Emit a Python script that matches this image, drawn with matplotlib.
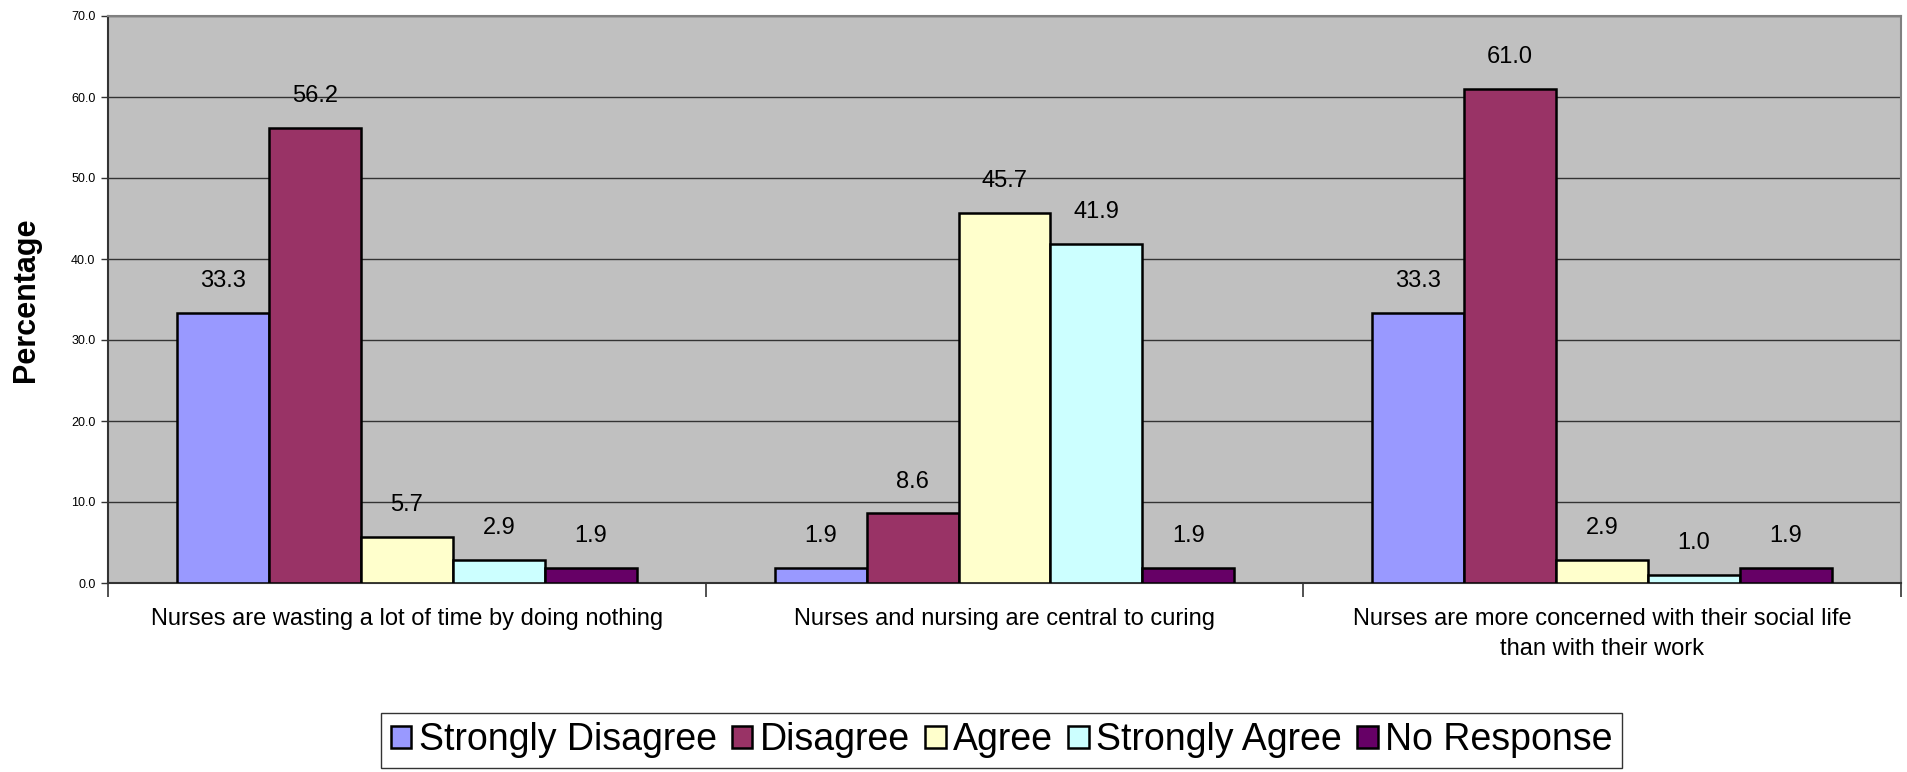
import matplotlib
matplotlib.use("Agg")
import matplotlib.pyplot as plt
import numpy as np
from matplotlib.patches import Patch

plt.rcParams['font.family'] = ['Liberation Sans', 'DejaVu Sans']

categories = [
    "Nurses are wasting a lot of time by doing nothing",
    "Nurses and nursing are central to curing",
    "Nurses are more concerned with their social life\nthan with their work",
]
series_names = ["Strongly Disagree", "Disagree", "Agree", "Strongly Agree", "No Response"]
strongly_disagree = [33.3, 1.9, 33.3]
disagree = [56.2, 8.6, 61.0]
agree = [5.7, 45.7, 2.9]
strongly_agree = [2.9, 41.9, 1.0]
no_response = [1.9, 1.9, 1.9]
series_values = [strongly_disagree, disagree, agree, strongly_agree, no_response]
colors = ["#9999FF", "#993366", "#FFFFCC", "#CCFFFF", "#660066"]

fig = plt.figure(figsize=(19.08, 7.72), dpi=100)
ax = fig.add_axes([108 / 1908, 1 - 583 / 772, (1901 - 108) / 1908, (583 - 16) / 772])
ax.set_facecolor("#C0C0C0")

n = len(series_names)
bar_w = 1.0 / (n + 1.5)
x = np.arange(len(categories))
for i, (name, vals, col) in enumerate(zip(series_names, series_values, colors)):
    pos = x + (i - (n - 1) / 2) * bar_w
    bars = ax.bar(pos, vals, width=bar_w, color=col, edgecolor="black",
                  linewidth=1.8, label=name, zorder=3)
    for b, v in zip(bars, vals):
        ax.annotate(f"{v:.1f}", (b.get_x() + b.get_width() / 2, v),
                    xytext=(0, 15), textcoords="offset points",
                    ha="center", va="bottom", fontsize=17, zorder=4)

ax.set_xlim(-0.5, len(categories) - 0.5)
ax.set_ylim(0, 70)
ax.set_yticks(np.arange(0, 71, 10))
ax.set_yticklabels([f"{t:.1f}" for t in np.arange(0, 71, 10)], fontsize=9)
ax.yaxis.grid(True, color="#333333", linewidth=1.0, zorder=1)
ax.set_axisbelow(True)

# category labels centred between boundary ticks
ax.set_xticks(np.arange(-0.5, len(categories), 1.0))
ax.set_xticklabels([])
ax.set_xticks(x, minor=True)
ax.set_xticklabels(categories, minor=True, fontsize=17, linespacing=1.45)
ax.tick_params(axis="x", which="minor", length=0, pad=18)
ax.tick_params(axis="x", which="major", length=10, width=1.2, color="#333333")
ax.tick_params(axis="y", length=5, width=1.0, color="#333333", pad=4)

for side in ["top", "right"]:
    ax.spines[side].set_color("#808080")
    ax.spines[side].set_linewidth(1.5)
for side in ["left", "bottom"]:
    ax.spines[side].set_color("#333333")
    ax.spines[side].set_linewidth(1.5)

ax.set_ylabel("Percentage", fontsize=22, fontweight="bold", labelpad=22)

handles = [Patch(facecolor=c, edgecolor="black", linewidth=1.8) for c in colors]
leg = fig.legend(handles, series_names, loc="center", bbox_to_anchor=(0.525, 0.041),
                 ncol=5, fontsize=27, frameon=True, fancybox=False, edgecolor="black",
                 handlelength=0.55, handleheight=0.55, handletextpad=0.2,
                 columnspacing=0.4, borderpad=0.25)
leg.get_frame().set_linewidth(1.0)

fig.savefig("out.png", dpi=100)
